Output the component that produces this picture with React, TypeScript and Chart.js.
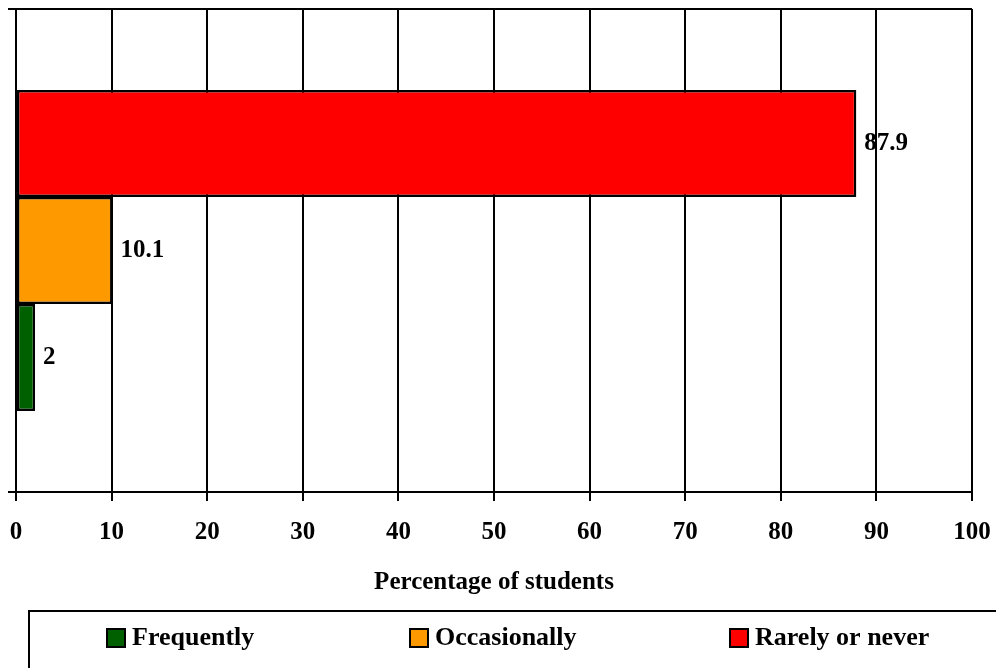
import React, { useEffect, useRef } from "react";
import { Chart, registerables } from "chart.js";

Chart.register(...registerables);

const categories: string[] = [""];
const seriesLabels: string[] = ["Frequently", "Occasionally", "Rarely or never"];
const seriesValues: number[] = [2, 10.1, 87.9];
const seriesColors: string[] = ["#006000", "#FF9900", "#FF0000"];
const xTickValues: number[] = [0, 10, 20, 30, 40, 50, 60, 70, 80, 90, 100];
const xTitle = "Percentage of students";

const FONT = "'Liberation Serif', 'Times New Roman', serif";

const dataLabelPlugin = {
  id: "dataLabels",
  afterDatasetsDraw(chart: any) {
    const ctx = chart.ctx;
    ctx.save();
    ctx.font = `bold 25px ${FONT}`;
    ctx.fillStyle = "#000";
    ctx.textAlign = "left";
    ctx.textBaseline = "middle";
    chart.data.datasets.forEach((ds: any, i: number) => {
      const meta = chart.getDatasetMeta(i);
      meta.data.forEach((el: any, j: number) => {
        const v = ds.data[j];
        ctx.fillText(String(v), el.x + 8, el.y);
      });
    });
    ctx.restore();
  },
};

const legendBoxPlugin = {
  id: "legendBox",
  afterDraw(chart: any) {
    const ctx = chart.ctx;
    ctx.save();
    ctx.lineWidth = 2;
    ctx.strokeStyle = "#000";
    ctx.strokeRect(29, 611, 1000, 100);
    const itemX = [107, 410, 730];
    const cy = 638;
    ctx.font = `bold 26px ${FONT}`;
    ctx.textBaseline = "middle";
    ctx.textAlign = "left";
    // legend in original series order (datasets are stored reversed)
    const items = chart.data.datasets.slice().reverse();
    items.forEach((ds: any, i: number) => {
      const x = itemX[i];
      ctx.fillStyle = ds.backgroundColor;
      ctx.fillRect(x, cy - 9, 18, 18);
      ctx.lineWidth = 2;
      ctx.strokeStyle = "#000";
      ctx.strokeRect(x, cy - 9, 18, 18);
      ctx.fillStyle = "#000";
      ctx.fillText(ds.label, x + 25, cy);
    });
    ctx.restore();
  },
};

export default function App() {
  const ref = useRef<HTMLCanvasElement | null>(null);
  useEffect(() => {
    if (!ref.current) return;
    const order = seriesLabels.map((_, i) => i).reverse();
    const chart = new Chart(ref.current, {
      type: "bar",
      data: {
        labels: categories,
        datasets: order.map((i) => ({
          label: seriesLabels[i],
          data: [seriesValues[i]],
          backgroundColor: seriesColors[i],
          borderColor: "#000",
          borderWidth: 2.5,
          borderSkipped: false,
          categoryPercentage: 0.665,
          barPercentage: 1,
        })),
      },
      options: {
        indexAxis: "y",
        responsive: false,
        animation: false,
        layout: { padding: { left: 8, right: 24, top: 9, bottom: 66 } },
        plugins: {
          legend: { display: false },
          tooltip: { enabled: false },
        },
        scales: {
          x: {
            type: "linear",
            min: 0,
            max: 100,
            afterBuildTicks: (scale: any) => {
              scale.ticks = xTickValues.map((v) => ({ value: v }));
            },
            afterFit: (scale: any) => {
              scale.paddingLeft = 0;
              scale.paddingRight = 0;
            },
            grid: {
              color: "#000",
              lineWidth: 2,
              tickLength: 9,
              drawTicks: true,
            },
            border: { color: "#000", width: 2 },
            ticks: {
              color: "#000",
              padding: 17,
              font: { family: FONT, size: 25, weight: "bold" },
              maxRotation: 0,
            },
            title: {
              display: true,
              text: xTitle,
              color: "#000",
              font: { family: FONT, size: 25, weight: "bold" },
              padding: { top: 3, bottom: 4 },
            },
          },
          y: {
            type: "category",
            offset: true,
            afterFit: (scale: any) => {
              scale.width = 8;
            },
            grid: {
              offset: true,
              color: "#000",
              lineWidth: 2,
              tickLength: 8,
              drawTicks: true,
            },
            border: { color: "#000", width: 2 },
            ticks: { display: false },
          },
        },
      },
      plugins: [dataLabelPlugin, legendBoxPlugin],
    } as any);
    return () => chart.destroy();
  }, []);
  return (
    <div style={{ position: "absolute", left: 0, top: 0, width: 996, height: 668, background: "#fff" }}>
      <canvas ref={ref} width={996} height={668} style={{ width: 996, height: 668 }} />
    </div>
  );
}
